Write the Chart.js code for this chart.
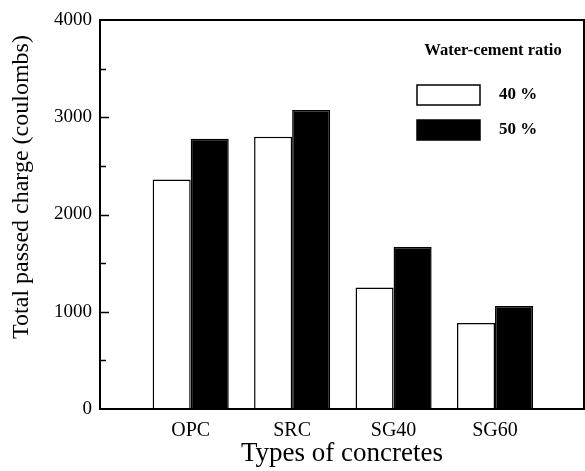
<!DOCTYPE html>
<html>
<head>
<meta charset="utf-8">
<script src="https://cdn.jsdelivr.net/npm/chart.js@4"></script>
<style>
  html, body { margin: 0; padding: 0; background: #fff; }
  #wrap { width: 585px; height: 471px; }
</style>
</head>
<body>
<div id="wrap"><canvas id="c" width="585" height="471"></canvas></div>
<script>
const categories = ['OPC', 'SRC', 'SG40', 'SG60'];
const ratio40 = [2360, 2800, 1250, 885];
const ratio50 = [2780, 3075, 1665, 1060];
const seriesNames = ['40 %', '50 %'];
const yTicks = [0, 1000, 2000, 3000, 4000];

const serif = '"Liberation Serif", "DejaVu Serif", serif';

// categories sit at x = 1..4 on a linear axis
const toPoints = (arr) => arr.map((v, i) => ({ x: i + 1, y: v }));

// frame, inward ticks, y title and the boxed legend
const decor = {
    id: 'decor',
    afterDatasetsDraw(chart) {
        const ctx = chart.ctx;
        const a = chart.chartArea;
        const y = chart.scales.y;
        ctx.save();
        ctx.strokeStyle = '#000';
        ctx.lineWidth = 2;
        ctx.strokeRect(a.left, a.top, a.right - a.left, a.bottom - a.top);

        // inward ticks on left axis
        ctx.lineWidth = 1.5;
        for (let v = 500; v < 4000; v += 500) {
            const py = Math.round(y.getPixelForValue(v)) + 0.5;
            const len = v % 1000 === 0 ? 9 : 6;
            ctx.beginPath();
            ctx.moveTo(a.left, py);
            ctx.lineTo(a.left + len, py);
            ctx.stroke();
        }

        // y axis title
        ctx.fillStyle = '#000';
        ctx.font = '24px ' + serif;
        ctx.textAlign = 'center';
        ctx.textBaseline = 'middle';
        ctx.translate(22, 187);
        ctx.rotate(-Math.PI / 2);
        ctx.fillText('Total passed charge (coulombs)', 0, 0);
        ctx.restore();

        // legend
        ctx.save();
        ctx.fillStyle = '#000';
        ctx.font = 'bold 16.5px ' + serif;
        ctx.textAlign = 'center';
        ctx.textBaseline = 'middle';
        ctx.fillText('Water-cement ratio', 493, 51);
        const ds = chart.data.datasets;
        const rows = [95, 130];
        ds.forEach((d, i) => {
            const cy = rows[i];
            ctx.fillStyle = d.backgroundColor;
            ctx.fillRect(417, cy - 10, 63, 20);
            ctx.strokeStyle = '#000';
            ctx.lineWidth = 1.5;
            ctx.strokeRect(417, cy - 10, 63, 20);
            ctx.fillStyle = '#000';
            ctx.font = 'bold 17px ' + serif;
            ctx.textAlign = 'left';
            ctx.fillText(d.label, 499, cy);
        });
        ctx.restore();
    }
};

new Chart(document.getElementById('c'), {
    type: 'bar',
    data: {
        datasets: [
            {
                label: seriesNames[0],
                data: toPoints(ratio40),
                backgroundColor: '#ffffff',
                borderColor: '#000000',
                borderWidth: 1.5
            },
            {
                label: seriesNames[1],
                data: toPoints(ratio50),
                backgroundColor: '#000000',
                borderColor: '#000000',
                borderWidth: 1.5
            }
        ]
    },
    options: {
        responsive: false,
        animation: false,
        datasets: { bar: { barPercentage: 1.0, categoryPercentage: 0.75 } },
        layout: { padding: { left: 0, right: 1, top: 20, bottom: 0 } },
        plugins: {
            legend: { display: false },
            tooltip: { enabled: false }
        },
        scales: {
            x: {
                type: 'linear',
                offset: false,
                min: 0.106,
                max: 4.877,
                grid: { display: false, drawTicks: false },
                border: { display: false },
                afterBuildTicks: (s) => { s.ticks = categories.map((c, i) => ({ value: i + 1 })); },
                afterFit: (s) => { s.height = 62; },
                ticks: {
                    padding: 10,
                    color: '#000',
                    font: { family: serif, size: 20 },
                    callback: (v) => categories[v - 1]
                },
                title: {
                    display: true,
                    text: 'Types of concretes',
                    color: '#000',
                    font: { family: serif, size: 27, lineHeight: 1 },
                    padding: { top: 0, bottom: 4 }
                }
            },
            y: {
                min: 0,
                max: 4000,
                grid: { display: false, drawTicks: false },
                border: { display: false },
                afterBuildTicks: (s) => { s.ticks = yTicks.map(v => ({ value: v })); },
                afterFit: (s) => { s.width = 100; },
                ticks: {
                    padding: 8,
                    color: '#000',
                    font: { family: serif, size: 19 },
                    callback: (v) => String(v)
                }
            }
        }
    },
    plugins: [decor]
});
</script>
</body>
</html>
